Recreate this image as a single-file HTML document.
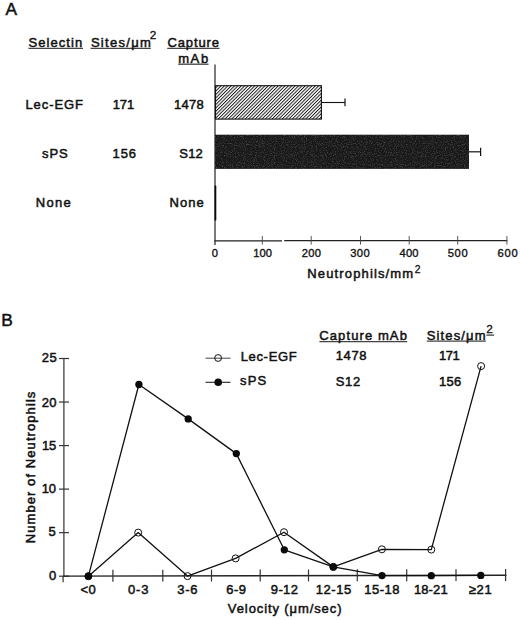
<!DOCTYPE html>
<html><head><meta charset="utf-8"><style>
html,body{margin:0;padding:0;background:#fff;}
body{width:520px;height:620px;overflow:hidden;}
svg{display:block;font-family:"Liberation Sans", sans-serif;fill:#111;}
</style></head><body>
<svg width="520" height="620" viewBox="0 0 520 620">
<line x1="28.5" y1="48.4" x2="83" y2="48.4" stroke="#444" stroke-width="1.3"/>
<line x1="90.6" y1="48.4" x2="150.8" y2="48.4" stroke="#444" stroke-width="1.3"/>
<line x1="167.2" y1="48.4" x2="219.5" y2="48.4" stroke="#444" stroke-width="1.3"/>
<line x1="178.2" y1="64.2" x2="208.5" y2="64.2" stroke="#444" stroke-width="1.3"/>
<line x1="215.0" y1="64.5" x2="215.0" y2="245" stroke="#222" stroke-width="1.2"/>
<line x1="214.5" y1="240.8" x2="282" y2="240.8" stroke="#222" stroke-width="1.3"/>
<line x1="284.2" y1="240.7" x2="507.3" y2="240.6" stroke="#222" stroke-width="1.3"/>
<line x1="262.3" y1="236" x2="262.3" y2="244.6" stroke="#444" stroke-width="0.9"/>
<line x1="311.2" y1="236" x2="311.2" y2="244.6" stroke="#444" stroke-width="0.9"/>
<line x1="360.5" y1="236" x2="360.5" y2="244.6" stroke="#444" stroke-width="0.9"/>
<line x1="409.2" y1="236" x2="409.2" y2="244.6" stroke="#444" stroke-width="0.9"/>
<line x1="457.7" y1="236" x2="457.7" y2="244.6" stroke="#444" stroke-width="0.9"/>
<line x1="506.9" y1="236" x2="506.9" y2="244.6" stroke="#444" stroke-width="0.9"/>
<defs><pattern id="hatch" patternUnits="userSpaceOnUse" width="2.38" height="2.38" patternTransform="rotate(45)"><rect width="2.38" height="2.38" fill="#fff"/><rect x="0" y="0" width="0.95" height="2.38" fill="#151515"/></pattern></defs>
<rect x="215.5" y="85.7" width="105.9" height="33.4" fill="url(#hatch)" stroke="#111" stroke-width="1.1"/>
<line x1="321.4" y1="102.5" x2="345" y2="102.5" stroke="#111" stroke-width="1.1"/>
<line x1="345" y1="98.5" x2="345" y2="106.3" stroke="#111" stroke-width="1.2"/>
<defs><filter id="nz" x="0" y="0" width="1" height="1"><feTurbulence type="fractalNoise" baseFrequency="0.9" numOctaves="2" seed="7" result="t"/><feColorMatrix in="t" type="matrix" values="0 0 0 0 1  0 0 0 0 1  0 0 0 0 1  0 0 0 1.6 -0.75"/></filter></defs>
<rect x="215" y="134.7" width="254" height="34.2" fill="#181818"/>
<rect x="215" y="134.7" width="254" height="34.2" filter="url(#nz)" opacity="0.35"/>
<line x1="469" y1="151.8" x2="480.6" y2="151.8" stroke="#222" stroke-width="1.3"/>
<line x1="480.6" y1="147.8" x2="480.6" y2="155.9" stroke="#111" stroke-width="1.2"/>
<rect x="214.6" y="185.6" width="1.7" height="34.9" rx="0.6" fill="#0a0a0a"/>
<line x1="63.9" y1="358.3" x2="63.9" y2="576.8" stroke="#333" stroke-width="1.2"/>
<line x1="59" y1="576.2" x2="69" y2="576.2" stroke="#333" stroke-width="1.2"/>
<line x1="59" y1="532.6600000000001" x2="69" y2="532.6600000000001" stroke="#333" stroke-width="1.2"/>
<line x1="59" y1="489.12" x2="69" y2="489.12" stroke="#333" stroke-width="1.2"/>
<line x1="59" y1="445.58000000000004" x2="69" y2="445.58000000000004" stroke="#333" stroke-width="1.2"/>
<line x1="59" y1="402.04" x2="69" y2="402.04" stroke="#333" stroke-width="1.2"/>
<line x1="59" y1="358.5" x2="69" y2="358.5" stroke="#333" stroke-width="1.2"/>
<text transform="translate(35.4,543.3) rotate(-90)" font-size="13.0" font-weight="normal" letter-spacing="1.08" stroke="#111" stroke-width="0.5">Number of Neutrophils</text>
<line x1="63" y1="576.1" x2="506.4" y2="575.3" stroke="#222" stroke-width="1.4"/>
<line x1="63.1" y1="576" x2="63.1" y2="582.2" stroke="#333" stroke-width="1.2"/>
<line x1="112.9" y1="569.8099684258007" x2="112.9" y2="581.7099684258008" stroke="#333" stroke-width="1.2"/>
<line x1="162.8" y1="569.7199368516012" x2="162.8" y2="581.6199368516013" stroke="#333" stroke-width="1.2"/>
<line x1="211.5" y1="569.6320703653586" x2="211.5" y2="581.5320703653587" stroke="#333" stroke-width="1.2"/>
<line x1="260.2" y1="569.5442038791159" x2="260.2" y2="581.444203879116" stroke="#333" stroke-width="1.2"/>
<line x1="308.5" y1="569.4570590888588" x2="308.5" y2="581.3570590888589" stroke="#333" stroke-width="1.2"/>
<line x1="357.3" y1="569.3690121786198" x2="357.3" y2="581.2690121786198" stroke="#333" stroke-width="1.2"/>
<line x1="406.7" y1="569.2798827244023" x2="406.7" y2="581.1798827244024" stroke="#333" stroke-width="1.2"/>
<line x1="456.0" y1="569.1909336941814" x2="456.0" y2="581.0909336941814" stroke="#333" stroke-width="1.2"/>
<line x1="505.6" y1="569.1014433919711" x2="505.6" y2="581.0014433919712" stroke="#333" stroke-width="1.2"/>
<polyline points="88.4,576.2 138.2,532.6 187.5,576.1 235.6,558.4 284.0,532.2 333.3,566.9 381.9,549.3 431.3,549.6 481.1,366.1" fill="none" stroke="#111" stroke-width="1.3" stroke-linejoin="round"/>
<polyline points="88.4,576.2 138.9,384.5 188.2,418.9 236.3,453.6 284.3,549.8 333.3,566.9 382.0,575.6 431.3,575.7 480.8,575.4" fill="none" stroke="#111" stroke-width="1.3" stroke-linejoin="round"/>
<circle cx="88.4" cy="576.2" r="3.5" fill="none" stroke="#111" stroke-width="1"/>
<circle cx="138.2" cy="532.6" r="3.5" fill="none" stroke="#111" stroke-width="1"/>
<circle cx="187.5" cy="576.1" r="3.5" fill="none" stroke="#111" stroke-width="1"/>
<circle cx="235.6" cy="558.4" r="3.5" fill="none" stroke="#111" stroke-width="1"/>
<circle cx="284.0" cy="532.2" r="3.5" fill="none" stroke="#111" stroke-width="1"/>
<circle cx="333.3" cy="566.9" r="3.5" fill="none" stroke="#111" stroke-width="1"/>
<circle cx="381.9" cy="549.3" r="3.5" fill="none" stroke="#111" stroke-width="1"/>
<circle cx="431.3" cy="549.6" r="3.5" fill="none" stroke="#111" stroke-width="1"/>
<circle cx="481.1" cy="366.1" r="3.5" fill="none" stroke="#111" stroke-width="1"/>
<circle cx="88.4" cy="576.2" r="3.65" fill="#0a0a0a"/>
<circle cx="138.9" cy="384.5" r="3.65" fill="#0a0a0a"/>
<circle cx="188.2" cy="418.9" r="3.65" fill="#0a0a0a"/>
<circle cx="236.3" cy="453.6" r="3.65" fill="#0a0a0a"/>
<circle cx="284.3" cy="549.8" r="3.65" fill="#0a0a0a"/>
<circle cx="333.3" cy="566.9" r="3.65" fill="#0a0a0a"/>
<circle cx="382.0" cy="575.6" r="3.65" fill="#0a0a0a"/>
<circle cx="431.3" cy="575.7" r="3.65" fill="#0a0a0a"/>
<circle cx="480.8" cy="575.4" r="3.65" fill="#0a0a0a"/>
<line x1="205.5" y1="358.2" x2="230.5" y2="358.2" stroke="#444" stroke-width="1.0"/>
<circle cx="218.1" cy="358.0" r="3.4" fill="none" stroke="#111" stroke-width="1"/>
<line x1="205.5" y1="382.3" x2="230.5" y2="382.3" stroke="#222" stroke-width="1.1"/>
<circle cx="218.2" cy="382.2" r="3.8" fill="#0a0a0a"/>
<line x1="319.4" y1="341.6" x2="407.2" y2="341.6" stroke="#444" stroke-width="1.3"/>
<line x1="426.8" y1="341.1" x2="485.8" y2="341.1" stroke="#444" stroke-width="1.3"/>
<line x1="486.4" y1="335.1" x2="494.0" y2="335.1" stroke="#333" stroke-width="1.2"/>
<text x="5.56" y="14.67" font-size="17.3" font-weight="normal" letter-spacing="0.200" stroke="#111" stroke-width="0.5">A</text>
<text x="28.51" y="46.72" font-size="13.0" font-weight="normal" letter-spacing="1.065" stroke="#111" stroke-width="0.5">Selectin</text>
<text x="90.91" y="46.72" font-size="13.0" font-weight="normal" letter-spacing="1.287" stroke="#111" stroke-width="0.5">Sites/&#956;m</text>
<text x="149.85" y="38.80" font-size="11.8" font-weight="normal" letter-spacing="0.200" stroke="#111" stroke-width="0.3">2</text>
<text x="167.54" y="46.72" font-size="13.0" font-weight="normal" letter-spacing="0.850" stroke="#111" stroke-width="0.5">Capture</text>
<text x="178.19" y="63.01" font-size="13.0" font-weight="normal" letter-spacing="1.599" stroke="#111" stroke-width="0.5">mAb</text>
<text x="25.46" y="108.66" font-size="13.0" font-weight="normal" letter-spacing="0.927" stroke="#111" stroke-width="0.5">Lec-EGF</text>
<text x="112.79" y="108.66" font-size="13.0" font-weight="normal" letter-spacing="-0.169" stroke="#111" stroke-width="0.5">171</text>
<text x="174.08" y="108.66" font-size="13.0" font-weight="normal" letter-spacing="0.233" stroke="#111" stroke-width="0.5">1478</text>
<text x="41.91" y="157.64" font-size="13.0" font-weight="normal" letter-spacing="1.015" stroke="#111" stroke-width="0.5">sPS</text>
<text x="112.53" y="157.64" font-size="13.0" font-weight="normal" letter-spacing="0.896" stroke="#111" stroke-width="0.5">156</text>
<text x="179.37" y="157.64" font-size="13.0" font-weight="normal" letter-spacing="0.156" stroke="#111" stroke-width="0.5">S12</text>
<text x="35.77" y="206.80" font-size="13.0" font-weight="normal" letter-spacing="1.328" stroke="#111" stroke-width="0.5">None</text>
<text x="169.43" y="206.80" font-size="13.0" font-weight="normal" letter-spacing="1.107" stroke="#111" stroke-width="0.5">None</text>
<text x="307.31" y="278.31" font-size="13.0" font-weight="normal" letter-spacing="1.139" stroke="#111" stroke-width="0.5">Neutrophils/mm</text>
<text x="414.68" y="273.15" font-size="10.3" font-weight="normal" letter-spacing="0.200" stroke="#111" stroke-width="0.3">2</text>
<text x="1.16" y="326.15" font-size="17.3" font-weight="normal" letter-spacing="0.200" stroke="#111" stroke-width="0.5">B</text>
<text x="227.86" y="613.01" font-size="13.0" font-weight="normal" letter-spacing="0.898" stroke="#111" stroke-width="0.5">Velocity (&#956;m/sec)</text>
<text x="240.63" y="360.99" font-size="13.0" font-weight="normal" letter-spacing="0.680" stroke="#111" stroke-width="0.5">Lec-EGF</text>
<text x="240.05" y="385.35" font-size="13.0" font-weight="normal" letter-spacing="1.084" stroke="#111" stroke-width="0.5">sPS</text>
<text x="319.28" y="339.69" font-size="13.0" font-weight="normal" letter-spacing="1.102" stroke="#111" stroke-width="0.5">Capture mAb</text>
<text x="426.64" y="339.69" font-size="13.0" font-weight="normal" letter-spacing="1.154" stroke="#111" stroke-width="0.5">Sites/&#956;m</text>
<text x="486.27" y="332.50" font-size="11.8" font-weight="normal" letter-spacing="0.200" stroke="#111" stroke-width="0.3">2</text>
<text x="335.75" y="360.32" font-size="13.0" font-weight="normal" letter-spacing="0.620" stroke="#111" stroke-width="0.5">1478</text>
<text x="438.91" y="360.32" font-size="13.0" font-weight="normal" letter-spacing="-0.434" stroke="#111" stroke-width="0.5">171</text>
<text x="335.64" y="385.61" font-size="13.0" font-weight="normal" letter-spacing="0.698" stroke="#111" stroke-width="0.5">S12</text>
<text x="438.91" y="385.61" font-size="13.0" font-weight="normal" letter-spacing="0.292" stroke="#111" stroke-width="0.5">156</text>
<text x="41.63" y="362.25" font-size="13.0" font-weight="normal" letter-spacing="0.605" stroke="#111" stroke-width="0.5">25</text>
<text x="41.68" y="406.82" font-size="13.0" font-weight="normal" letter-spacing="0.250" stroke="#111" stroke-width="0.5">20</text>
<text x="41.91" y="449.60" font-size="13.0" font-weight="normal" letter-spacing="-0.082" stroke="#111" stroke-width="0.5">15</text>
<text x="41.67" y="492.60" font-size="13.0" font-weight="normal" letter-spacing="-0.065" stroke="#111" stroke-width="0.5">10</text>
<text x="48.47" y="536.25" font-size="13.0" font-weight="normal" letter-spacing="0.500" stroke="#111" stroke-width="0.5">5</text>
<text x="48.94" y="579.82" font-size="13.0" font-weight="normal" letter-spacing="0.500" stroke="#111" stroke-width="0.5">0</text>
<text x="80.58" y="594.45" font-size="13.0" font-weight="normal" letter-spacing="0.416" stroke="#111" stroke-width="0.5">&lt;0</text>
<text x="127.88" y="594.45" font-size="13.0" font-weight="normal" letter-spacing="0.863" stroke="#111" stroke-width="0.5">0-3</text>
<text x="177.21" y="594.45" font-size="13.0" font-weight="normal" letter-spacing="0.776" stroke="#111" stroke-width="0.5">3-6</text>
<text x="226.18" y="594.45" font-size="13.0" font-weight="normal" letter-spacing="0.496" stroke="#111" stroke-width="0.5">6-9</text>
<text x="270.77" y="594.45" font-size="13.0" font-weight="normal" letter-spacing="0.387" stroke="#111" stroke-width="0.5">9-12</text>
<text x="315.79" y="594.45" font-size="13.0" font-weight="normal" letter-spacing="0.526" stroke="#111" stroke-width="0.5">12-15</text>
<text x="364.33" y="594.45" font-size="13.0" font-weight="normal" letter-spacing="0.448" stroke="#111" stroke-width="0.5">15-18</text>
<text x="413.91" y="594.45" font-size="13.0" font-weight="normal" letter-spacing="0.125" stroke="#111" stroke-width="0.5">18-21</text>
<text x="468.63" y="594.45" font-size="13.0" font-weight="normal" letter-spacing="0.694" stroke="#111" stroke-width="0.5">&#8805;21</text>
<text x="211.74" y="256.56" font-size="11.2" font-weight="normal" letter-spacing="0.200" stroke="#111" stroke-width="0.35">0</text>
<text x="253.16" y="256.56" font-size="11.2" font-weight="normal" letter-spacing="0.119" stroke="#111" stroke-width="0.35">100</text>
<text x="301.71" y="256.56" font-size="11.2" font-weight="normal" letter-spacing="0.323" stroke="#111" stroke-width="0.35">200</text>
<text x="350.33" y="256.56" font-size="11.2" font-weight="normal" letter-spacing="0.303" stroke="#111" stroke-width="0.35">300</text>
<text x="399.54" y="256.56" font-size="11.2" font-weight="normal" letter-spacing="0.145" stroke="#111" stroke-width="0.35">400</text>
<text x="447.71" y="256.56" font-size="11.2" font-weight="normal" letter-spacing="0.620" stroke="#111" stroke-width="0.35">500</text>
<text x="497.62" y="256.56" font-size="11.2" font-weight="normal" letter-spacing="0.716" stroke="#111" stroke-width="0.35">600</text>
</svg>
</body></html>
